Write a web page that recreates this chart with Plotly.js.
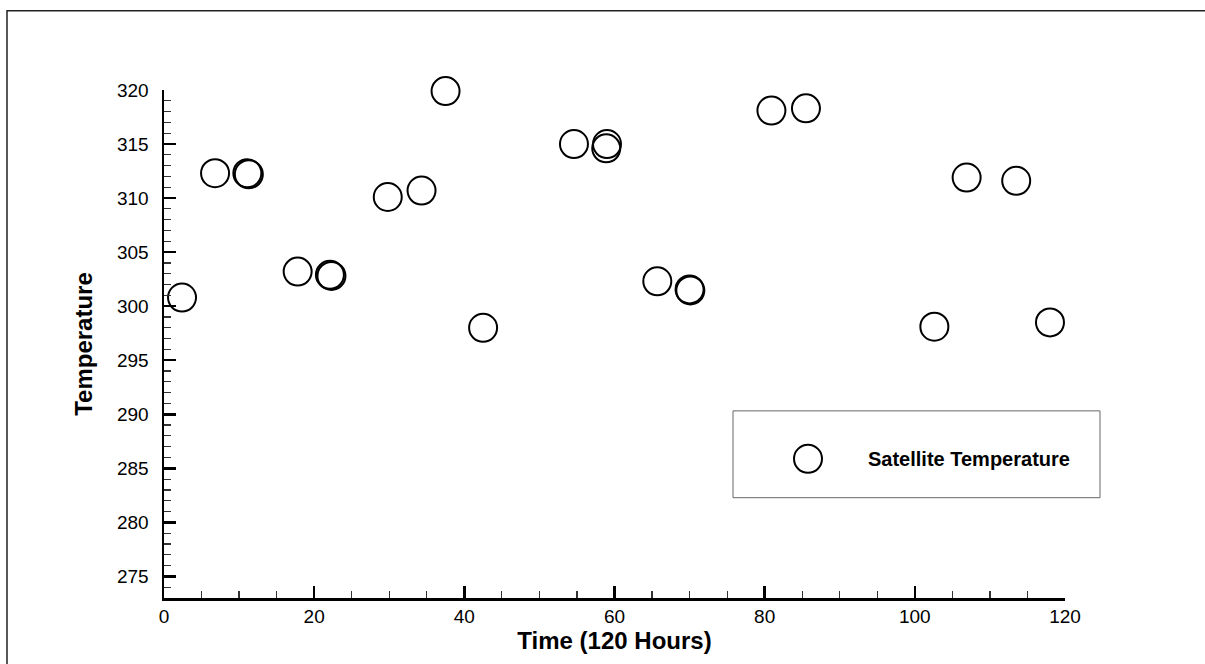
<!DOCTYPE html>
<html>
<head>
<meta charset="utf-8">
<script src="https://cdn.plot.ly/plotly-3.0.1.min.js"></script>
<style>html,body{margin:0;padding:0;background:#fff;}#chart{width:1205px;height:664px;}</style>
</head>
<body>
<div id="chart"></div>
<script>
// Data
const seriesName = "Satellite Temperature";
const timeHours = [2.4, 6.8, 11.1, 11.3, 17.8, 22.1, 22.3, 29.8, 34.3, 37.5, 42.5, 54.6, 59.0, 58.9, 65.7, 70.0, 70.1, 80.9, 85.5, 102.6, 106.9, 113.5, 118.0];
const temperature = [300.8, 312.3, 312.3, 312.2, 303.2, 302.9, 302.8, 310.1, 310.7, 319.9, 298.0, 315.0, 315.0, 314.6, 302.3, 301.55, 301.45, 318.1, 318.3, 298.1, 311.9, 311.6, 298.5];
const xTitle = "Time (120 Hours)";
const yTitle = "Temperature";

const W = 1205, H = 664;
const M = {l: 164, r: 140, t: 89.5, b: 65.5};
const pw = W - M.l - M.r, ph = H - M.t - M.b;
const px = x => (x - M.l) / pw;
const py = y => (H - M.b - y) / ph;

const font = "Liberation Sans, Arial, Helvetica, sans-serif";

const trace = {
  type: "scatter", mode: "markers", name: seriesName,
  x: timeHours, y: temperature, cliponaxis: false,
  marker: {symbol: "circle-open", size: 28, color: "#000", line: {width: 2, color: "#000"}},
  showlegend: false, hoverinfo: "x+y"
};

const layout = {
  width: W, height: H,
  margin: M,
  paper_bgcolor: "#fff", plot_bgcolor: "#fff",
  font: {family: font, color: "#000"},
  showlegend: false,
  xaxis: {
    range: [0, 120], dtick: 20, tick0: 0,
    showline: true, linewidth: 2.5, linecolor: "#000",
    ticks: "inside", ticklen: 12, tickwidth: 2.5, tickcolor: "#000",
    minor: {ticks: "inside", dtick: 5, ticklen: 7, tickwidth: 1.2, tickcolor: "#333"},
    showgrid: false, zeroline: false,
    tickfont: {size: 19, family: font, color: "#000"},
    ticklabelstandoff: 0,
    title: {text: xTitle, font: {size: 24, family: font, color: "#000", weight: "bold"}, standoff: 0}
  },
  yaxis: {
    range: [273, 320], dtick: 5, tick0: 275,
    showline: true, linewidth: 2.5, linecolor: "#000",
    ticks: "inside", ticklen: 12, tickwidth: 2.5, tickcolor: "#000",
    minor: {ticks: "inside", dtick: 1, ticklen: 7, tickwidth: 1.2, tickcolor: "#333"},
    showgrid: false, zeroline: false,
    tickfont: {size: 19, family: font, color: "#000"},
    ticklabelstandoff: 9,
    title: {text: yTitle, font: {size: 24, family: font, color: "#000", weight: "bold"}, standoff: 18}
  },
  shapes: [
    // outer frame (only top and left edges visible)
    {type: "rect", xref: "paper", yref: "paper", x0: px(7), x1: px(1215), y0: py(674), y1: py(10),
     line: {color: "#222", width: 1.5}, fillcolor: "rgba(0,0,0,0)", layer: "below"},
    // legend box
    {type: "rect", xref: "paper", yref: "paper", x0: px(733), x1: px(1100), y0: py(498), y1: py(411),
     line: {color: "#666", width: 1}, fillcolor: "#fff"},
    // legend symbol
    {type: "circle", xref: "paper", yref: "paper", xsizemode: "pixel", ysizemode: "pixel",
     xanchor: px(808), yanchor: py(459), x0: -14, x1: 14, y0: -14, y1: 14,
     line: {color: "#000", width: 2}}
  ],
  annotations: [
    {xref: "paper", yref: "paper", x: px(866), y: py(459), xanchor: "left", yanchor: "middle",
     text: "<b>" + seriesName + "</b>", showarrow: false,
     font: {size: 20, family: font, color: "#000"}}
  ]
};

Plotly.newPlot("chart", [trace], layout, {displayModeBar: false, staticPlot: true});
</script>
</body>
</html>
